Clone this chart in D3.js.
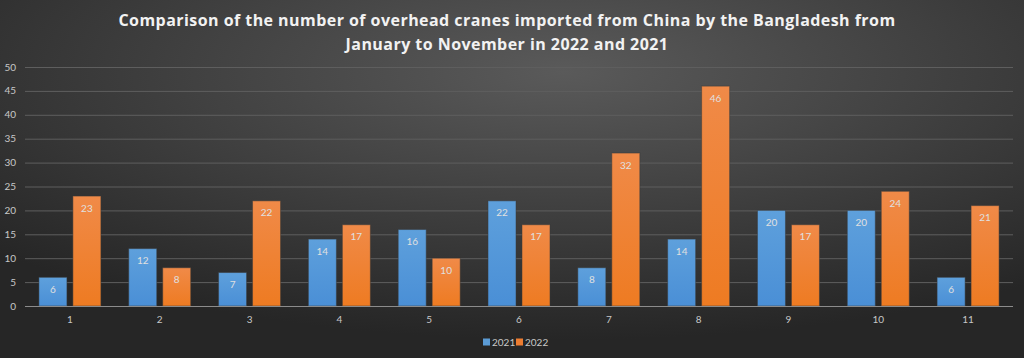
<!DOCTYPE html>
<html><head><meta charset="utf-8">
<script src="https://cdn.jsdelivr.net/npm/d3@7"></script>
<style>html,body{margin:0;padding:0;background:#333;}svg{display:block;}</style>
</head><body>
<svg id="chart" width="1024" height="358"></svg>
<script>
const months = ["1","2","3","4","5","6","7","8","9","10","11"];
const series = ["2021","2022"];
const values2021 = [6,12,7,14,16,22,8,14,20,20,6];
const values2022 = [23,8,22,17,10,17,32,46,17,24,21];
const yTicks = [0,5,10,15,20,25,30,35,40,45,50];
const titleLines = ["Comparison of the number of overhead cranes imported from China by the Bangladesh from","January to November in 2022 and 2021"];
const colors = {"2021":"#5b9bd5","2022":"#ed7d31"};

(function(){
const W=1024,H=358;
const svg=d3.select("#chart");
const defs=svg.append("defs");
const bg=defs.append("radialGradient").attr("id","bg").attr("cx","55%").attr("cy","20%").attr("r","75%");
bg.append("stop").attr("offset","0%").attr("stop-color","#5a5a5a");
bg.append("stop").attr("offset","100%").attr("stop-color","#262626");
const gB=defs.append("linearGradient").attr("id","g2021").attr("x1",0).attr("x2",0).attr("y1",0).attr("y2",1);
gB.append("stop").attr("offset","0%").attr("stop-color","#5ea0dc");
gB.append("stop").attr("offset","100%").attr("stop-color","#4a8fd6");
const gO=defs.append("linearGradient").attr("id","g2022").attr("x1",0).attr("x2",0).attr("y1",0).attr("y2",1);
gO.append("stop").attr("offset","0%").attr("stop-color","#f08a48");
gO.append("stop").attr("offset","100%").attr("stop-color","#ee7b22");

svg.append("rect").attr("width",W).attr("height",H).attr("fill","url(#bg)");

const mL=25,mR=1013,mT=67,mB=306;
const x0=d3.scaleBand().domain(months).range([mL,mR]).paddingInner(0.31).paddingOuter(0.155);
const x1=d3.scaleBand().domain(series).range([0,x0.bandwidth()]).paddingInner(0.176);
const y=d3.scaleLinear().domain([0,50]).range([mB,mT]);

svg.append("g").selectAll("line").data(yTicks.filter(d=>d>0)).join("line")
 .attr("x1",mL).attr("x2",mR).attr("y1",d=>y(d)+0.5).attr("y2",d=>y(d)+0.5)
 .attr("stroke","#5e5e5e").attr("stroke-width",1);

svg.append("g").selectAll("text").data(yTicks).join("text")
 .attr("x",16).attr("y",d=>y(d)).attr("dy","0.35em").attr("text-anchor","end")
 .attr("font-family","Lato, 'Open Sans', sans-serif").attr("font-size",10).attr("fill","#c8c8c8").text(d=>d);

const data=months.map((m,i)=>({m,v:{"2021":values2021[i],"2022":values2022[i]}}));
const groups=svg.append("g").selectAll("g").data(data).join("g").attr("transform",d=>`translate(${x0(d.m)},0)`);
groups.selectAll("rect").data(d=>series.map(s=>({s,v:d.v[s]}))).join("rect")
 .attr("x",d=>x1(d.s)).attr("width",x1.bandwidth())
 .attr("y",d=>y(d.v)).attr("height",d=>y(0)-y(d.v))
 .attr("fill",d=>`url(#g${d.s})`).attr("stroke","#3a3a3a").attr("stroke-opacity",0.5).attr("stroke-width",1);
groups.selectAll("text").data(d=>series.map(s=>({s,v:d.v[s]}))).join("text")
 .attr("x",d=>x1(d.s)+x1.bandwidth()/2).attr("y",d=>y(d.v)+12).attr("dy","0.35em")
 .attr("text-anchor","middle").attr("font-family","Lato, 'Open Sans', sans-serif").attr("font-size",10)
 .attr("fill","#e0e0e0").text(d=>d.v);

svg.append("line").attr("x1",mL).attr("x2",mR).attr("y1",mB+0.5).attr("y2",mB+0.5).attr("stroke","#8c8c8c").attr("stroke-width",1.2);

svg.append("g").selectAll("text").data(months).join("text")
 .attr("x",d=>x0(d)+x0.bandwidth()/2).attr("y",319).attr("dy","0.35em").attr("text-anchor","middle")
 .attr("font-family","Lato, 'Open Sans', sans-serif").attr("font-size",10).attr("fill","#c8c8c8").text(d=>d);

svg.append("g").selectAll("text").data(titleLines).join("text")
 .attr("x",507).attr("y",(d,i)=>20+i*24).attr("dy","0.35em").attr("text-anchor","middle")
 .attr("font-family","'Open Sans', sans-serif").attr("font-weight","bold").attr("font-size",16)
 .attr("letter-spacing",0.45).attr("fill","#f2f2f2").text(d=>d);

const legX=[483,516];
const leg=svg.append("g").selectAll("g").data(series).join("g").attr("transform",(d,i)=>`translate(${legX[i]},342)`);
leg.append("rect").attr("x",0).attr("y",-3.5).attr("width",7).attr("height",7).attr("fill",d=>colors[d]);
leg.append("text").attr("x",9).attr("y",0).attr("dy","0.35em").attr("font-family","Lato, 'Open Sans', sans-serif")
 .attr("font-size",10).attr("fill","#c8c8c8").text(d=>d);
})();
</script>
</body></html>
